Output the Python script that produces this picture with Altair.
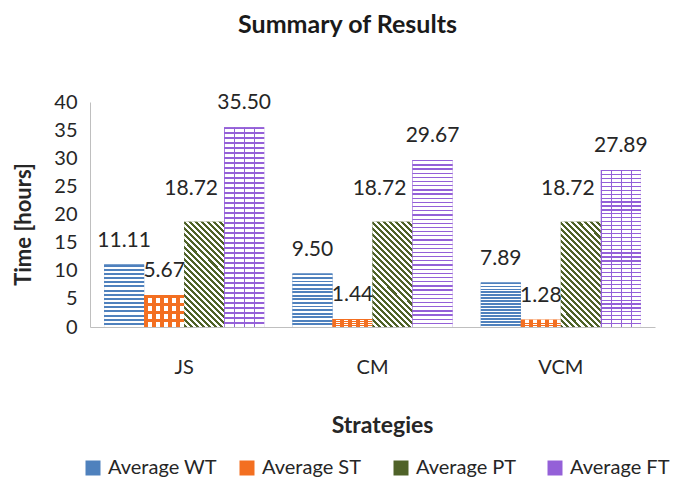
import altair as alt
import pandas as pd

strategies = ["JS", "CM", "VCM"]
series = ["Average WT", "Average ST", "Average PT", "Average FT"]
wt = [11.11, 9.50, 7.89]
st = [5.67, 1.44, 1.28]
pt = [18.72, 18.72, 18.72]
ft = [35.50, 29.67, 27.89]
colors = ["#4F81BD", "#F36F21", "#4F6228", "#9460D8"]
y_ticks = [0, 5, 10, 15, 20, 25, 30, 35, 40]

rows = []
for name, vals in zip(series, [wt, st, pt, ft]):
    for s, v in zip(strategies, vals):
        rows.append({"Strategy": s, "Series": name, "Time": v})
df = pd.DataFrame(rows)

FONT = "Lato"


def stripes(n, c_on, c_off, frac, x1, y1, x2, y2):
    stops = []
    for i in range(n):
        a = i / n
        b = (i + frac) / n
        c = (i + 1) / n
        stops += [
            {"offset": a, "color": c_on},
            {"offset": b, "color": c_on},
            {"offset": b, "color": c_off},
            {"offset": c, "color": c_off},
        ]
    return {"gradient": "linear", "x1": x1, "y1": y1, "x2": x2, "y2": y2, "stops": stops}


CLEAR = "rgba(255,255,255,0)"
grad_wt = stripes(15, colors[0], "#ffffff", 0.5, 0, 0, 0, 1)
grad_st_v = stripes(5, colors[1], "#ffffff", 0.5, 0, 0, 1, 0)
grad_st_h = stripes(4, colors[1], CLEAR, 0.35, 0, 0, 0, 1)
grad_pt = stripes(24, colors[2], "#ffffff", 0.5, 0, 1, 0.4597, -0.206)
grad_ft_h = stripes(40, colors[3], "#ffffff", 0.3, 0, 0, 0, 1)
grad_ft_v = stripes(4, colors[3], CLEAR, 0.07, 0, 0, 1, 0)

base = alt.Chart(df).encode(
    x=alt.X(
        "Strategy:N",
        sort=strategies,
        scale=alt.Scale(paddingInner=0.15, paddingOuter=0.075),
        axis=alt.Axis(
            title="Strategies",
            labelAngle=0,
            ticks=False,
            domainColor="#BFBFBF",
            labelFont=FONT,
            labelFontSize=20,
            labelColor="#262626",
            labelPadding=30,
            titleFont=FONT,
            titleFontSize=23,
            titleFontWeight="bold",
            titleColor="#262626",
            titleX=292,
            titleY=98,
            titleBaseline="middle",
        ),
    ),
    xOffset=alt.XOffset(
        "Series:N", sort=series, scale=alt.Scale(domain=series, paddingInner=0, paddingOuter=0)
    ),
    y=alt.Y(
        "Time:Q",
        scale=alt.Scale(domain=[0, 40]),
        axis=alt.Axis(
            title="Time [hours]",
            values=y_ticks,
            grid=False,
            ticks=False,
            domainColor="#BFBFBF",
            labelFont=FONT,
            labelFontSize=20,
            labelColor="#262626",
            labelPadding=13,
            titleFont=FONT,
            titleFontSize=22,
            titleFontWeight="bold",
            titleColor="#262626",
            titleAngle=270,
            titleAlign="center",
            titleBaseline="middle",
            titleX=-67,
            titleY=122,
        ),
    ),
)

solid = base.mark_bar().encode(
    color=alt.Color(
        "Series:N",
        sort=series,
        scale=alt.Scale(domain=series, range=colors),
        legend=alt.Legend(
            title=None,
            orient="none",
            direction="horizontal",
            legendX=-7,
            legendY=356,
            symbolType="square",
            symbolSize=225,
            symbolStrokeWidth=0,
            labelFont=FONT,
            labelFontSize=20,
            labelColor="#262626",
            labelOffset=5,
            gridAlign="all",
            columnPadding=20,
        ),
    )
)


def pattern(name, grad):
    return base.transform_filter(alt.datum.Series == name).mark_bar(fill=grad, strokeWidth=0)


layers = [
    solid,
    pattern("Average WT", grad_wt),
    pattern("Average ST", grad_st_v),
    pattern("Average ST", grad_st_h),
    pattern("Average PT", grad_pt),
    pattern("Average FT", grad_ft_h),
    pattern("Average FT", grad_ft_v),
]

labels = base.transform_filter(alt.datum.Series != "Average PT").mark_text(
    font=FONT, fontSize=21, color="#262626", baseline="middle", dy=-24
).encode(text=alt.Text("Time:Q", format=".2f"))

labels_pt = base.transform_filter(alt.datum.Series == "Average PT").mark_text(
    font=FONT, fontSize=21, color="#262626", baseline="middle", dy=-33, dx=-13
).encode(text=alt.Text("Time:Q", format=".2f"))

chart = alt.layer(*layers, labels, labels_pt).properties(
    width=565,
    height=225,
    title=alt.TitleParams(
        "Summary of Results",
        font=FONT,
        fontSize=25,
        fontWeight="bold",
        color="#1a1a1a",
        anchor="middle",
        dx=-25,
        offset=54,
    ),
    autosize=alt.AutoSizeParams(type="none"),
    padding={"left": 82, "top": 94, "right": 16, "bottom": 153},
).configure_view(stroke=None)

chart.save("out.html", embed_options={"renderer": "svg", "actions": False})
